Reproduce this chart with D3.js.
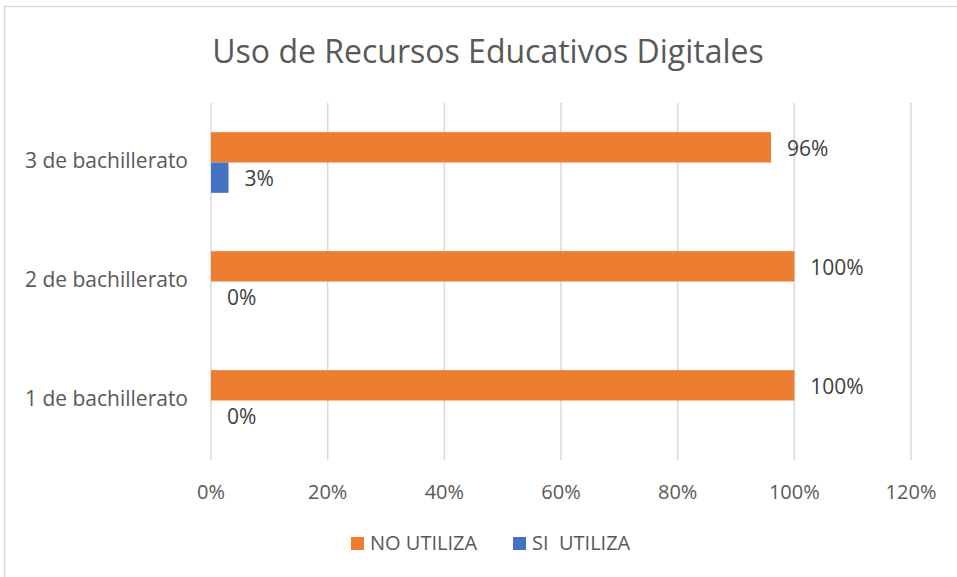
<!DOCTYPE html>
<html>
<head>
<meta charset="utf-8">
<script src="https://cdn.jsdelivr.net/npm/d3@7"></script>
<style>
  body { margin: 0; background: #fff; }
  svg { display: block; font-family: "Open Sans", sans-serif; }
</style>
</head>
<body>
<svg id="chart"></svg>
<script>
const categories = ["3 de bachillerato", "2 de bachillerato", "1 de bachillerato"];
const seriesNames = ["NO UTILIZA", "SI  UTILIZA"];
const noUtiliza = [0.96, 1.0, 1.0];
const siUtiliza = [0.03, 0, 0];
const ticks = [0, 0.2, 0.4, 0.6, 0.8, 1.0, 1.2];
const colors = ["#ED7D31", "#4472C4"];

const W = 957, H = 577;
const margin = { top: 103, right: 46, bottom: 117, left: 211 };
const width = W - margin.left - margin.right,
  height = H - margin.top - margin.bottom;

const svg = d3.select("#chart").attr("width", W).attr("height", H);

// chart border
svg.append("rect")
  .attr("x", 4.5).attr("y", 6.5)
  .attr("width", W).attr("height", H)
  .attr("fill", "none").attr("stroke", "#d9d9d9").attr("stroke-width", 1.5);

svg.append("text")
  .attr("x", 488).attr("y", 63)
  .attr("text-anchor", "middle")
  .style("font-size", "32px")
  .attr("fill", "#595959")
  .text("Uso de Recursos Educativos Digitales");

const g = svg.append("g").attr("transform", `translate(${margin.left},${margin.top})`);

const x = d3.scaleLinear().domain([0, 1.2]).range([0, width]);
const y = d3.scaleBand().domain(categories).range([0, height]).paddingInner(0.49).paddingOuter(0.245);
const sub = d3.scaleBand().domain([0, 1]).range([0, y.bandwidth()]);

// gridlines
g.selectAll(".grid").data(ticks).join("line")
  .attr("x1", d => x(d)).attr("x2", d => x(d))
  .attr("y1", 0).attr("y2", height)
  .attr("stroke", "#d9d9d9").attr("stroke-width", 1.5);

// x axis labels
g.selectAll(".tick-label").data(ticks).join("text")
  .attr("x", d => x(d)).attr("y", height + 39)
  .attr("text-anchor", "middle")
  .style("font-size", "20px")
  .attr("fill", "#595959")
  .text(d => d3.format(".0%")(d));

// category labels
g.selectAll(".cat").data(categories).join("text")
  .attr("x", -23).attr("y", d => y(d) + y.bandwidth() / 2)
  .attr("text-anchor", "end")
  .attr("dominant-baseline", "middle")
  .style("font-size", "21px")
  .attr("fill", "#595959")
  .text(d => d);

const series = [noUtiliza, siUtiliza];
series.forEach((vals, si) => {
  g.selectAll(".bar" + si).data(categories).join("rect")
    .attr("x", x(0))
    .attr("y", (d) => y(d) + sub(si))
    .attr("width", (d, i) => x(vals[i]) - x(0))
    .attr("height", sub.bandwidth())
    .attr("fill", colors[si]);

  g.selectAll(".lab" + si).data(categories).join("text")
    .attr("x", (d, i) => x(vals[i]) + 16)
    .attr("y", (d) => y(d) + sub(si) + sub.bandwidth() / 2 + 3)
    .attr("dominant-baseline", "middle")
    .style("font-size", "21px")
    .attr("fill", "#404040")
    .text((d, i) => d3.format(".0%")(vals[i]));
});

// legend
const legendX = [351, 513];
seriesNames.forEach((name, i) => {
  svg.append("rect")
    .attr("x", legendX[i]).attr("y", 537)
    .attr("width", 13).attr("height", 13)
    .attr("fill", colors[i]);
  svg.append("text")
    .attr("x", legendX[i] + 19).attr("y", 545)
    .attr("dominant-baseline", "middle")
    .style("font-size", "20px")
    .style("white-space", "pre")
    .attr("fill", "#595959")
    .text(name);
});
</script>
</body>
</html>
